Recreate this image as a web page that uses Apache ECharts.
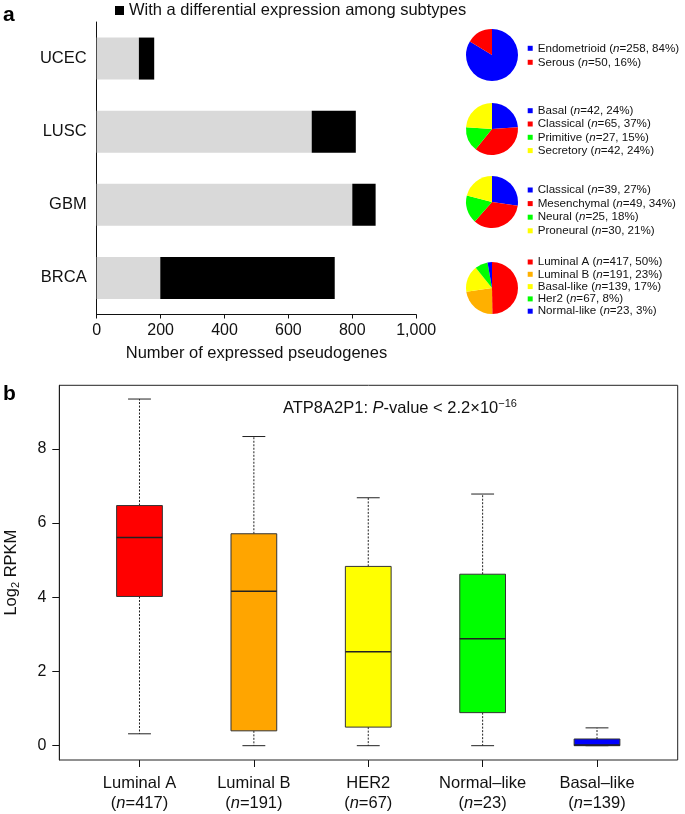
<!DOCTYPE html>
<html><head><meta charset="utf-8">
<script src="https://cdn.jsdelivr.net/npm/echarts@6/dist/echarts.min.js"></script>
<style>html,body{margin:0;padding:0;background:#fff}#c{width:685px;height:814px}</style>
</head><body><div id="c"></div>
<script>
// ---------- Panel a: bars ----------
const cancerTypes = ['UCEC', 'LUSC', 'GBM', 'BRCA'];
const nonDifferential = [132, 673, 800, 199];
const differential = [48, 138, 73, 546];
const barXTicks = [0, 200, 400, 600, 800, 1000];

// ---------- Panel a: subtype pies ----------
const ucecNames = ['Endometrioid', 'Serous'];
const ucecN = [258, 50];
const ucecPct = [84, 16];
const luscNames = ['Basal', 'Classical', 'Primitive', 'Secretory'];
const luscN = [42, 65, 27, 42];
const luscPct = [24, 37, 15, 24];
const gbmNames = ['Classical', 'Mesenchymal', 'Neural', 'Proneural'];
const gbmN = [39, 49, 25, 30];
const gbmPct = [27, 34, 18, 21];
const brcaNames = ['Luminal A', 'Luminal B', 'Basal-like', 'Her2', 'Normal-like'];
const brcaN = [417, 191, 139, 67, 23];
const brcaPct = [50, 23, 17, 8, 3];

// ---------- Panel b: boxplot ----------
const boxCategories = ['Luminal A', 'Luminal B', 'HER2', 'Normal\u2013like', 'Basal\u2013like'];
const boxN = [417, 191, 67, 23, 139];
const boxMin = [0.32, 0, 0, 0, 0];
const boxQ1 = [4.02, 0.40, 0.50, 0.89, 0];
const boxMedian = [5.61, 4.16, 2.53, 2.88, 0.02];
const boxQ3 = [6.47, 5.71, 4.83, 4.62, 0.18];
const boxMax = [9.34, 8.33, 6.68, 6.78, 0.48];
const boxYTicks = [0, 2, 4, 6, 8];

// styles
const FONT = 'Liberation Sans, Arial, Helvetica, sans-serif';
const ucecColors = ['#0000ff', '#ff0000'];
const luscColors = ['#0000ff', '#ff0000', '#00ff00', '#ffff00'];
const gbmColors = ['#0000ff', '#ff0000', '#00ff00', '#ffff00'];
const brcaColors = ['#ff0000', '#ffb000', '#ffff00', '#00ff00', '#0000ff'];
const boxColors = ['#ff0000', '#ffa500', '#ffff00', '#00ff00', '#0000ff'];

function label(name, n, p) { return name + ' (n=' + n + ', ' + p + '%)'; }
function pieData(names, ns, ps, colors) {
  return names.map((nm, k) => ({ name: label(nm, ns[k], ps[k]), value: ns[k], itemStyle: { color: colors[k] } }));
}
const pies = [
  { data: pieData(ucecNames, ucecN, ucecPct, ucecColors), cy: 55, first: 48.3, step: 14 },
  { data: pieData(luscNames, luscN, luscPct, luscColors), cy: 129, first: 110.7, step: 13.3 },
  { data: pieData(gbmNames, gbmN, gbmPct, gbmColors), cy: 202, first: 190, step: 13.6 },
  { data: pieData(brcaNames, brcaN, brcaPct, brcaColors), cy: 288, first: 262, step: 12.3 }
];

const legendFont = 11.6;
const pieLegends = pies.map(p => ({
  orient: 'vertical', left: 527.7, top: p.first - 6, padding: 0,
  itemGap: p.step - 12, itemWidth: 5, itemHeight: 5, icon: 'rect', selectedMode: false,
  data: p.data.map(d => d.name),
  formatter: name => name.replace('(n=', '({i|n}='),
  textStyle: { fontFamily: FONT, fontSize: legendFont, lineHeight: 12, color: '#111',
    rich: { i: { fontStyle: 'italic', fontFamily: FONT, fontSize: legendFont, lineHeight: 12, color: '#111' } } }
}));
const pieSeries = pies.map(p => ({
  type: 'pie', center: [492, p.cy], radius: 26, startAngle: 90, clockwise: true,
  label: { show: false }, labelLine: { show: false }, silent: true, animation: false,
  emphasis: { disabled: true }, itemStyle: { borderWidth: 0 }, data: p.data
}));

const boxData = boxCategories.map((c, i) => [i, boxMin[i], boxQ1[i], boxMedian[i], boxQ3[i], boxMax[i]]);

const chart = echarts.init(document.getElementById('c'), null, { renderer: 'canvas' });
chart.setOption({
  animation: false,
  textStyle: { fontFamily: FONT },
  title: [{
    left: 283, top: 398, padding: 0,
    text: '{a|ATP8A2P1: }{i|P}{a|-value < 2.2\u00d710}{s|\u221216}',
    textStyle: { fontWeight: 'normal', rich: {
      a: { fontFamily: FONT, fontSize: 16.5, fontWeight: 'normal', color: '#111', lineHeight: 20 },
      i: { fontFamily: FONT, fontSize: 16.5, fontWeight: 'normal', fontStyle: 'italic', color: '#111', lineHeight: 20 },
      s: { fontFamily: FONT, fontSize: 11, fontWeight: 'normal', color: '#111', lineHeight: 11, verticalAlign: 'top' }
    } }
  }],
  legend: [{
    left: 115, top: 1.5, padding: 0, itemWidth: 9, itemHeight: 9, icon: 'rect', selectedMode: false,
    data: ['With a differential expression among subtypes'],
    textStyle: { fontFamily: FONT, fontSize: 16.5, lineHeight: 18, color: '#111' }
  }].concat(pieLegends),
  grid: [
    { left: 96.7, top: 22, width: 319.5, height: 292.5, outerBoundsMode: 'none', containLabel: false },
    { left: 82.3, right: 30.8, top: 385.3, bottom: 54, outerBoundsMode: 'none', containLabel: false }
  ],
  xAxis: [{
    gridIndex: 0, type: 'value', min: 0, max: 1000, interval: 200,
    name: 'Number of expressed pseudogenes', nameLocation: 'middle', nameGap: 30,
    nameTextStyle: { fontFamily: FONT, fontSize: 16.5, color: '#111' },
    axisLine: { show: true, lineStyle: { color: '#111' } },
    axisTick: { show: true, length: 4, lineStyle: { color: '#111' } },
    axisLabel: { fontFamily: FONT, fontSize: 16, color: '#111', margin: 8,
      formatter: v => barXTicks.indexOf(v) >= 0 ? v.toLocaleString('en-US') : '' },
    splitLine: { show: false }
  }, {
    gridIndex: 1, type: 'category', data: boxCategories, position: 'bottom',
    axisLine: { show: false, onZero: false },
    axisTick: { show: true, alignWithLabel: true, length: 7, lineStyle: { color: '#111' } },
    axisLabel: { fontFamily: FONT, fontSize: 16.5, lineHeight: 20, color: '#111', margin: 13, interval: 0,
      formatter: (v, i) => v + '\n({i|n}=' + boxN[i] + ')',
      rich: { i: { fontFamily: FONT, fontSize: 16.5, lineHeight: 20, fontStyle: 'italic', color: '#111' } } },
    splitLine: { show: false }
  }],
  yAxis: [{
    gridIndex: 0, type: 'category', inverse: true, data: cancerTypes,
    axisLine: { show: true, lineStyle: { color: '#111' } },
    axisTick: { show: false },
    axisLabel: { fontFamily: FONT, fontSize: 16.5, color: '#111', margin: 10 }
  }, {
    gridIndex: 1, type: 'value', min: -0.386, max: 9.71, offset: 23,
    name: '{a|Log}{s|2}{a| RPKM}', nameLocation: 'middle', nameGap: 38, nameRotate: 90,
    nameTextStyle: { rich: {
      a: { fontFamily: FONT, fontSize: 16.5, color: '#111', lineHeight: 20 },
      s: { fontFamily: FONT, fontSize: 11, color: '#111', lineHeight: 11, verticalAlign: 'bottom' }
    } },
    axisLine: { show: true, onZero: false, lineStyle: { color: '#111' } },
    axisTick: { show: true, length: 7, customValues: boxYTicks, lineStyle: { color: '#111' } },
    axisLabel: { fontFamily: FONT, fontSize: 16, color: '#111', margin: 13, customValues: boxYTicks },
    splitLine: { show: false }
  }],
  graphic: [
    { type: 'text', left: 3, top: 5, style: { text: 'a', font: 'bold 21px ' + FONT, fill: '#000' } },
    { type: 'text', left: 3, top: 384, style: { text: 'b', font: 'bold 21px ' + FONT, fill: '#000' } },
    { type: 'rect', shape: { x: 59.3, y: 385.3, width: 618.4, height: 374.7 },
      style: { fill: 'none', stroke: '#222', lineWidth: 1 }, silent: true, z: 10 }
  ],
  series: [
    { type: 'bar', name: 'Not differential', xAxisIndex: 0, yAxisIndex: 0, stack: 'a', barWidth: 42,
      itemStyle: { color: '#d9d9d9' }, data: nonDifferential, silent: true },
    { type: 'bar', name: 'With a differential expression among subtypes', xAxisIndex: 0, yAxisIndex: 0,
      stack: 'a', barWidth: 42, itemStyle: { color: '#000000' }, data: differential, silent: true },
    {
      type: 'custom', name: 'box', xAxisIndex: 1, yAxisIndex: 1, data: boxData,
      encode: { x: 0, y: [1, 2, 3, 4, 5] }, silent: true,
      renderItem: (params, api) => {
        const i = api.value(0);
        const w = api.size([1, 0])[0];
        const bw = w * 0.4, cw = bw * 0.5;
        const x = api.coord([i, api.value(3)])[0];
        const y = v => api.coord([i, v])[1];
        const yMin = y(api.value(1)), yQ1 = y(api.value(2)), yMed = y(api.value(3)), yQ3 = y(api.value(4)), yMax = y(api.value(5));
        const dash = { stroke: '#222', lineWidth: 1, lineDash: [2, 1.5] };
        const solid = { stroke: '#222', lineWidth: 1 };
        return { type: 'group', children: [
          { type: 'line', shape: { x1: x, y1: yQ3, x2: x, y2: yMax }, style: dash },
          { type: 'line', shape: { x1: x, y1: yQ1, x2: x, y2: yMin }, style: dash },
          { type: 'line', shape: { x1: x - cw / 2, y1: yMax, x2: x + cw / 2, y2: yMax }, style: solid },
          { type: 'line', shape: { x1: x - cw / 2, y1: yMin, x2: x + cw / 2, y2: yMin }, style: solid },
          { type: 'rect', shape: { x: x - bw / 2, y: yQ3, width: bw, height: yQ1 - yQ3 },
            style: { fill: boxColors[params.dataIndex], stroke: '#333', lineWidth: 1 } },
          { type: 'line', shape: { x1: x - bw / 2, y1: yMed, x2: x + bw / 2, y2: yMed }, style: { stroke: '#222', lineWidth: 1.5 } }
        ] };
      }
    }
  ].concat(pieSeries)
});
</script></body></html>
